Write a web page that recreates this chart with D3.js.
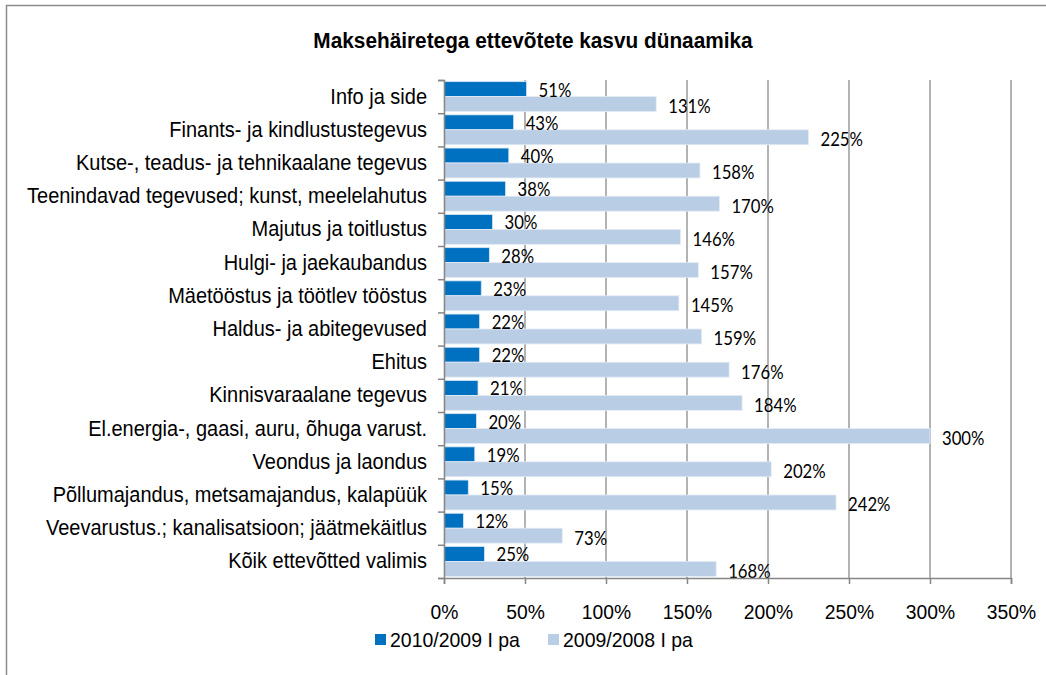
<!DOCTYPE html>
<html>
<head>
<meta charset="utf-8">
<script src="https://cdn.jsdelivr.net/npm/d3@7"></script>
<style>
  body { margin: 0; background: #fff; }
  svg { display: block; }
</style>
</head>
<body>
<svg id="chart" width="1046" height="675"></svg>
<script>
'use strict';

// data
const categories = [
  "Info ja side",
  "Finants- ja kindlustustegevus",
  "Kutse-, teadus- ja tehnikaalane tegevus",
  "Teenindavad tegevused; kunst, meelelahutus",
  "Majutus ja toitlustus",
  "Hulgi- ja jaekaubandus",
  "Mäetööstus ja töötlev tööstus",
  "Haldus- ja abitegevused",
  "Ehitus",
  "Kinnisvaraalane tegevus",
  "El.energia-, gaasi, auru, õhuga varust.",
  "Veondus ja laondus",
  "Põllumajandus, metsamajandus, kalapüük",
  "Veevarustus.; kanalisatsioon; jäätmekäitlus",
  "Kõik ettevõtted valimis"
];
const series2010 = [51, 43, 40, 38, 30, 28, 23, 22, 22, 21, 20, 19, 15, 12, 25];
const series2009 = [131, 225, 158, 170, 146, 157, 145, 159, 176, 184, 300, 202, 242, 73, 168];
const xTicks = [0, 50, 100, 150, 200, 250, 300, 350];
const seriesNames = ["2010/2009 I pa", "2009/2008 I pa"];
const colors = ["#0070C0", "#B9CDE5"];

const svg = d3.select("#chart");
const labelFont = "'Liberation Sans', Arial, sans-serif";
const valueFont = "Lato, Carlito, Calibri, sans-serif";

// narrow-looking text: draw at a point and squeeze horizontally
function narrow(sel, x, y, sx) {
  return sel.attr("transform", `translate(${x},${y}) scale(${sx},1)`);
}

// chart border
svg.append("rect")
  .attr("x", 6.5).attr("y", 5.5)
  .attr("width", 1100).attr("height", 800)
  .attr("fill", "none")
  .attr("stroke", "#8c8c8c")
  .attr("stroke-width", 1.5);

// title
narrow(svg.append("text"), 533, 48, 0.925)
  .attr("text-anchor", "middle")
  .style("font-family", labelFont)
  .style("font-size", "22.5px")
  .style("font-weight", "bold")
  .text("Maksehäiretega ettevõtete kasvu dünaamika");

let margin = {top: 80, left: 444, right: 35, bottom: 97};
let width = 1046 - margin.left - margin.right,
    height = 675 - margin.top - margin.bottom;

let x = d3.scaleLinear().domain([0, 350]).range([0, width]);
let y = d3.scaleBand().domain(categories).range([0, height]).paddingInner(0.1).paddingOuter(0.05);
let g = svg.append("g").attr("transform", `translate(${margin.left},${margin.top})`);

// gridlines
g.append("g")
  .selectAll("line")
  .data(xTicks.slice(1))
  .enter().append("line")
  .attr("x1", d => x(d)).attr("x2", d => x(d))
  .attr("y1", 0).attr("y2", height)
  .attr("stroke", "#9a9a9a")
  .attr("stroke-width", 1.5);

const barH = y.bandwidth() / 2;

// bars 2010/2009
g.selectAll(".barA")
  .data(series2010)
  .enter().append("rect")
  .attr("class", "barA")
  .attr("x", 0)
  .attr("y", (d, i) => y(categories[i]))
  .attr("width", d => x(d))
  .attr("height", barH)
  .attr("fill", colors[0])
  .attr("stroke", "#d6e6f4")
  .attr("stroke-width", 0.8);

// bars 2009/2008
g.selectAll(".barB")
  .data(series2009)
  .enter().append("rect")
  .attr("class", "barB")
  .attr("x", 0)
  .attr("y", (d, i) => y(categories[i]) + barH)
  .attr("width", d => x(d))
  .attr("height", barH)
  .attr("fill", colors[1])
  .attr("stroke", "#e4ecf6")
  .attr("stroke-width", 0.8);

// value labels
g.selectAll(".lblA")
  .data(series2010)
  .enter().append("text")
  .attr("class", "lblA")
  .each(function(d, i) {
    narrow(d3.select(this), x(d) + 12, y(categories[i]) + barH / 2 + 7.5, 0.88);
  })
  .style("font-family", valueFont)
  .style("font-size", "19px")
  .attr("fill", "#000")
  .text(d => d + "%");

g.selectAll(".lblB")
  .data(series2009)
  .enter().append("text")
  .attr("class", "lblB")
  .each(function(d, i) {
    narrow(d3.select(this), x(d) + 12, y(categories[i]) + barH * 1.5 + 9, 0.88);
  })
  .style("font-family", valueFont)
  .style("font-size", "19px")
  .attr("fill", "#000")
  .text(d => d + "%");

// y axis
let yAxis = g.append("g")
  .call(d3.axisLeft(d3.scaleLinear().domain([0, categories.length]).range([0, height]))
    .ticks(categories.length).tickSize(6).tickFormat(""));
yAxis.selectAll("path, line").attr("stroke", "#868686").attr("stroke-width", 1.5);

g.selectAll(".cat")
  .data(categories)
  .enter().append("text")
  .attr("class", "cat")
  .each(function(d) {
    narrow(d3.select(this), -17, y(d) + y.bandwidth() / 2 + 7, 0.93);
  })
  .attr("text-anchor", "end")
  .style("font-family", labelFont)
  .style("font-size", "21.5px")
  .text(d => d);

// x axis
let xAxis = g.append("g")
  .attr("transform", `translate(0,${height})`)
  .call(d3.axisBottom(x).tickValues(xTicks).tickSize(6).tickFormat(d => d + "%"));
xAxis.selectAll("path, line").attr("stroke", "#868686").attr("stroke-width", 1.5);
xAxis.selectAll("text")
  .attr("dy", 0)
  .attr("y", 0)
  .attr("transform", "translate(0,41) scale(0.92,1)")
  .style("font-family", labelFont)
  .style("font-size", "21px")
  .attr("fill", "#000");

// legend
let legend = svg.append("g").attr("transform", "translate(375,646)");
seriesNames.forEach((name, i) => {
  let lx = i * 173;
  legend.append("rect")
    .attr("x", lx).attr("y", -12)
    .attr("width", 11).attr("height", 11)
    .attr("fill", colors[i]);
  narrow(legend.append("text"), lx + 15, 1, 0.95)
    .style("font-family", labelFont)
    .style("font-size", "20.5px")
    .text(name);
});
</script>
</body>
</html>
